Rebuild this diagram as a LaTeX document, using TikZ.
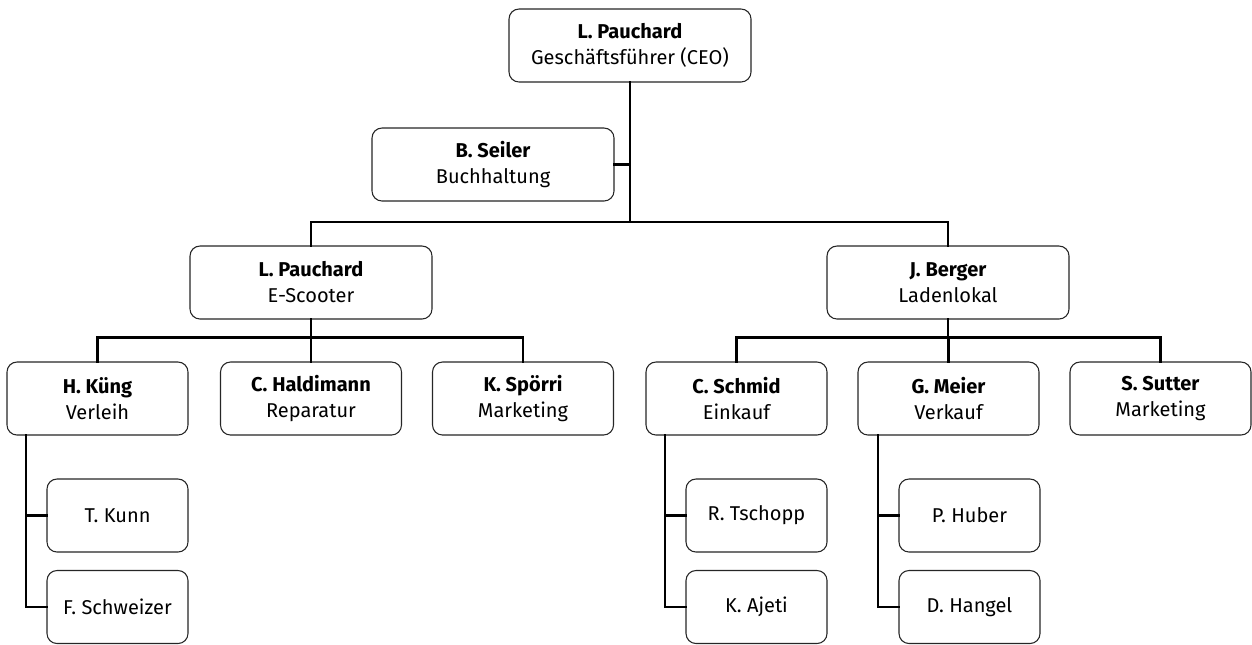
\documentclass[tikz,border=0pt]{standalone}
\usepackage{fontspec}
\setmainfont{Fira Sans}
\begin{document}
\begin{tikzpicture}[x=0.75pt,y=-0.75pt,
  box/.style={draw=black!85,line width=0.8pt,rounded corners=7.5pt,fill=white,align=center,
    font=\fontsize{15}{19.5}\selectfont,inner sep=0pt},
  bigbox/.style={box,minimum width=181.5pt,minimum height=54.75pt},
  midbox/.style={box,minimum width=135.75pt,minimum height=54.75pt},
  smallbox/.style={box,minimum width=105.75pt,minimum height=54.75pt},
  conn/.style={line width=2.2pt,line cap=rect}]
\useasboundingbox (0,0) rectangle (1252,644);
% nodes
\node[bigbox] (ceo) at (630,45.5) {\textbf{L. Pauchard}\\Geschäftsführer (CEO)};
\node[bigbox] (seiler) at (493,164.5) {\textbf{B. Seiler}\\Buchhaltung};
\node[bigbox] (escooter) at (311,282.5) {\textbf{L. Pauchard}\\E-Scooter};
\node[bigbox] (berger) at (948,282.5) {\textbf{J. Berger}\\Ladenlokal};
\node[midbox] (kueng) at (97.5,398.5) {\textbf{H. Küng}\\Verleih};
\node[midbox] (haldimann) at (311,398.5) {\textbf{C. Haldimann}\\Reparatur};
\node[midbox] (spoerri) at (523,398.5) {\textbf{K. Spörri}\\Marketing};
\node[midbox] (schmid) at (736.5,398.5) {\textbf{C. Schmid}\\Einkauf};
\node[midbox] (meier) at (948.5,398.5) {\textbf{G. Meier}\\Verkauf};
\node[midbox] (sutter) at (1160.5,398.5) {\textbf{S. Sutter}\\Marketing};
\node[smallbox] (kunn) at (117.5,515.5) {T. Kunn};
\node[smallbox] (schweizer) at (117.5,607) {F. Schweizer};
\node[smallbox] (tschopp) at (756.5,515.5) {R. Tschopp};
\node[smallbox] (ajeti) at (756.5,607) {K. Ajeti};
\node[smallbox] (huber) at (969.5,515.5) {P. Huber};
\node[smallbox] (hangel) at (969.5,607) {D. Hangel};
% junctions
\coordinate (b1) at (630,222);
\coordinate (b2) at (311,337.5);
\coordinate (b3) at (948,337.5);
\coordinate (t1) at (26,435);
\coordinate (t2) at (665,435);
\coordinate (t3) at (878,435);
% connectors
\draw[conn] (ceo.south) -- (b1);
\draw[conn] (seiler.east) -- (seiler.east -| ceo.south);
\draw[conn] (escooter.north) |- (b1) -| (berger.north);
\draw[conn] (escooter.south) -- (b2);
\draw[conn] (kueng.north) |- (b2) -| (spoerri.north);
\draw[conn] (haldimann.north) -- (haldimann.north |- b2);
\draw[conn] (berger.south) -- (b3);
\draw[conn] (schmid.north) |- (b3) -| (sutter.north);
\draw[conn] (meier.north) -- (meier.north |- b3);
\draw[conn] (t1) |- (schweizer.west);
\draw[conn] (kunn.west) -- (kunn.west -| t1);
\draw[conn] (t2) |- (ajeti.west);
\draw[conn] (tschopp.west) -- (tschopp.west -| t2);
\draw[conn] (t3) |- (hangel.west);
\draw[conn] (huber.west) -- (huber.west -| t3);
\end{tikzpicture}
\end{document}
